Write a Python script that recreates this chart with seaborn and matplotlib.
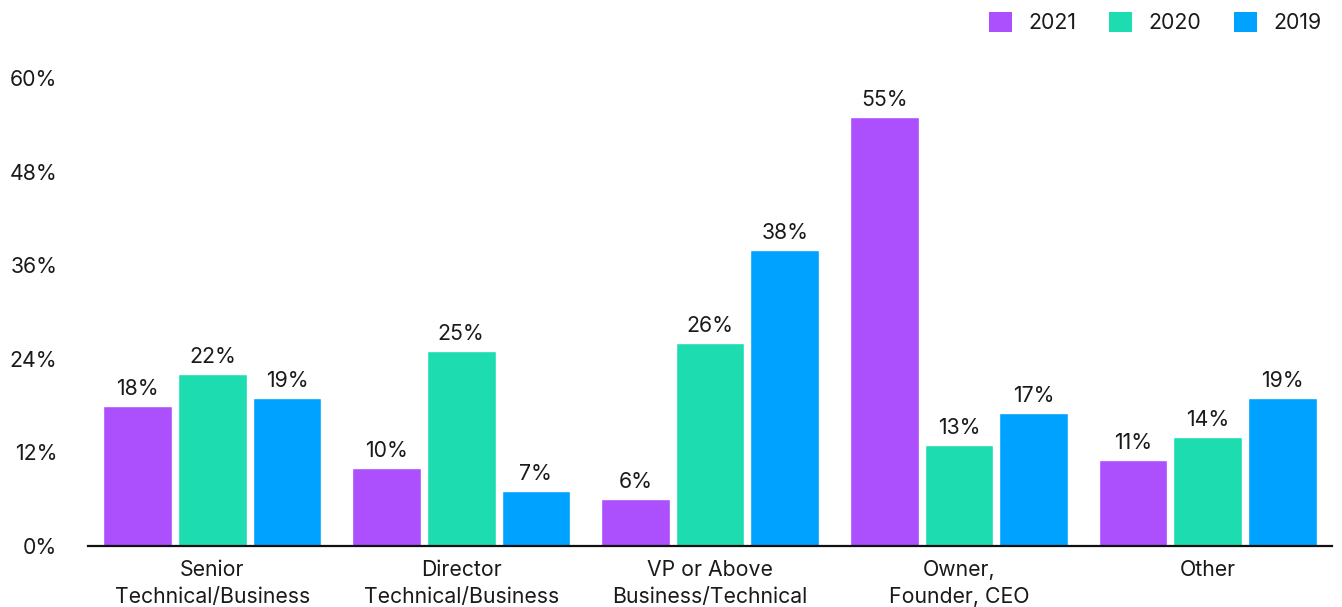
import matplotlib
matplotlib.use("Agg")
import matplotlib.pyplot as plt
from matplotlib.patches import Patch
import seaborn as sns
import pandas as pd

# 数据
categories = ["Senior\nTechnical/Business", "Director\nTechnical/Business",
              "VP or Above\nBusiness/Technical", "Owner,\nFounder, CEO", "Other"]
years = ["2021", "2020", "2019"]
values_2021 = [18, 10, 6, 55, 11]
values_2020 = [22, 25, 26, 13, 14]
values_2019 = [19, 7, 38, 17, 19]
y_ticks = [0, 12, 24, 36, 48, 60]
colors = ["#AC4FFC", "#1DDDB0", "#00A2FF"]

rows = []
for year, vals in zip(years, [values_2021, values_2020, values_2019]):
    for cat, v in zip(categories, vals):
        rows.append({"category": cat, "year": year, "value": v})
df = pd.DataFrame(rows)

sns.set_theme(style="white")
plt.rcParams["font.family"] = ["Inter", "DejaVu Sans"]
text_color = "#1a1a1a"
fs = 15.3

fig = plt.figure(figsize=(13.42, 6.07), dpi=100)
ax = fig.add_axes([0.0656, 0.1005, 0.927, 0.771])

sns.barplot(data=df, x="category", y="value", hue="year", hue_order=years,
            order=categories, palette=colors, width=0.9, gap=0.08,
            saturation=1, legend=False, ax=ax)

for cont in ax.containers:
    ax.bar_label(cont, fmt="%d%%", padding=5, fontsize=fs, color=text_color)

ax.set_ylim(0, 60)
ax.set_xlim(-0.5, 4.5)
ax.set_yticks(y_ticks)
ax.set_yticklabels([f"{t}%" for t in y_ticks])
ax.set_xlabel("")
ax.set_ylabel("")
ax.tick_params(axis="y", length=0, pad=22, labelsize=fs, labelcolor=text_color)
ax.tick_params(axis="x", length=0, pad=10, labelsize=fs, labelcolor=text_color)
for lbl in ax.get_xticklabels():
    lbl.set_linespacing(1.45)

for side in ["top", "right", "left"]:
    ax.spines[side].set_visible(False)
ax.spines["bottom"].set_color("#111111")
ax.spines["bottom"].set_linewidth(1.6)

handles = [Patch(facecolor=c, edgecolor="none", label=y) for c, y in zip(colors, years)]
fig.legend(handles=handles, loc="upper right", bbox_to_anchor=(0.999, 1.012),
           ncol=3, frameon=False, fontsize=fs, handlelength=1.1, handleheight=1.1,
           handletextpad=0.75, columnspacing=1.55, labelcolor=text_color)

fig.savefig("out.png", dpi=100)
